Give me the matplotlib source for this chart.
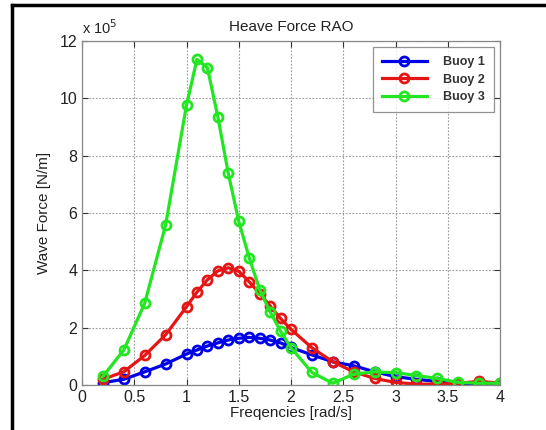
import matplotlib
matplotlib.use("Agg")
import matplotlib.pyplot as plt
from matplotlib.lines import Line2D

plt.rcParams['font.family'] = ['Liberation Sans', 'DejaVu Sans']

freq = [0.2, 0.4, 0.6, 0.8, 1.0, 1.1, 1.2, 1.3, 1.4, 1.5, 1.6, 1.7, 1.8, 1.9, 2.0,
        2.2, 2.4, 2.6, 2.8, 3.0, 3.2, 3.4, 3.6, 3.8, 4.0]
# values in units of 1e5 N/m
buoy1 = [0.08, 0.20, 0.46, 0.73, 1.08, 1.22, 1.36, 1.47, 1.57, 1.63, 1.66, 1.63, 1.57, 1.47, 1.31,
         1.05, 0.81, 0.67, 0.46, 0.29, 0.20, 0.12, 0.06, 0.05, 0.04]
buoy2 = [0.20, 0.46, 1.03, 1.75, 2.73, 3.24, 3.67, 3.98, 4.09, 3.97, 3.60, 3.19, 2.76, 2.32, 1.94,
         1.30, 0.81, 0.46, 0.23, 0.09, 0.03, 0.03, 0.06, 0.13, 0.06]
buoy3 = [0.30, 1.22, 2.85, 5.58, 9.76, 11.36, 11.07, 9.35, 7.38, 5.71, 4.44, 3.33, 2.55, 1.88, 1.30,
         0.44, 0.06, 0.38, 0.46, 0.43, 0.33, 0.23, 0.09, 0.06, 0.06]
labels = ['Buoy 1', 'Buoy 2', 'Buoy 3']
colors = ['#0000e6', '#e61515', '#22e622']

fig = plt.figure(figsize=(5.46, 4.30), dpi=100)
ax = fig.add_axes([82/546, 1 - 385/430, (500-82)/546, (385-41)/430])

for ys, lab, c in zip([buoy1, buoy2, buoy3], labels, colors):
    ax.plot(freq, ys, '-o', color=c, lw=2.3, ms=6.5, mfc='none', mew=2.0, label=lab)

ax.set_xlim(0, 4)
ax.set_ylim(0, 12)
ax.set_xticks([0, 0.5, 1, 1.5, 2, 2.5, 3, 3.5, 4])
ax.set_xticklabels(['0', '0.5', '1', '1.5', '2', '2.5', '3', '3.5', '4'])
ax.set_yticks([0, 2, 4, 6, 8, 10, 12])
ax.grid(True, linestyle=(0, (1.5, 1.5)), color='#999999', linewidth=0.8)
ax.tick_params(direction='in', top=True, right=True, labelsize=11.5, colors='#333333',
               length=4, width=0.8)
for tl in ax.get_xticklabels() + ax.get_yticklabels():
    tl.set_color('#222222')
for s in ax.spines.values():
    s.set_color('#888888')
    s.set_linewidth(0.9)

ax.set_xlabel('Freqencies [rad/s]', fontsize=11, color='#222222', labelpad=1)
ax.set_ylabel('Wave Force [N/m]', fontsize=11, color='#222222', labelpad=6)
ax.set_title('Heave Force RAO', fontsize=11, color='#222222', pad=7)
ax.text(0.0, 1.012, r'x 10$^{5}$', transform=ax.transAxes, fontsize=10.5,
        color='#222222', ha='left', va='bottom')

leg = ax.legend(loc='upper right', bbox_to_anchor=(0.985, 0.982), fontsize=9,
                frameon=True, fancybox=False, edgecolor='#777777', handlelength=3.6,
                labelspacing=0.45, borderpad=0.7, handletextpad=1.3, borderaxespad=0)
for t in leg.get_texts():
    t.set_fontweight('bold')
    t.set_color('#333333')
leg.get_frame().set_linewidth(0.9)

fig.add_artist(Line2D([12/546, 12/546], [0, 1 - 5/430], transform=fig.transFigure,
                      color='black', lw=2.5))
fig.add_artist(Line2D([12/546, 1], [1 - 5/430, 1 - 5/430], transform=fig.transFigure,
                      color='black', lw=2.5))

fig.savefig('out.png', dpi=100)
